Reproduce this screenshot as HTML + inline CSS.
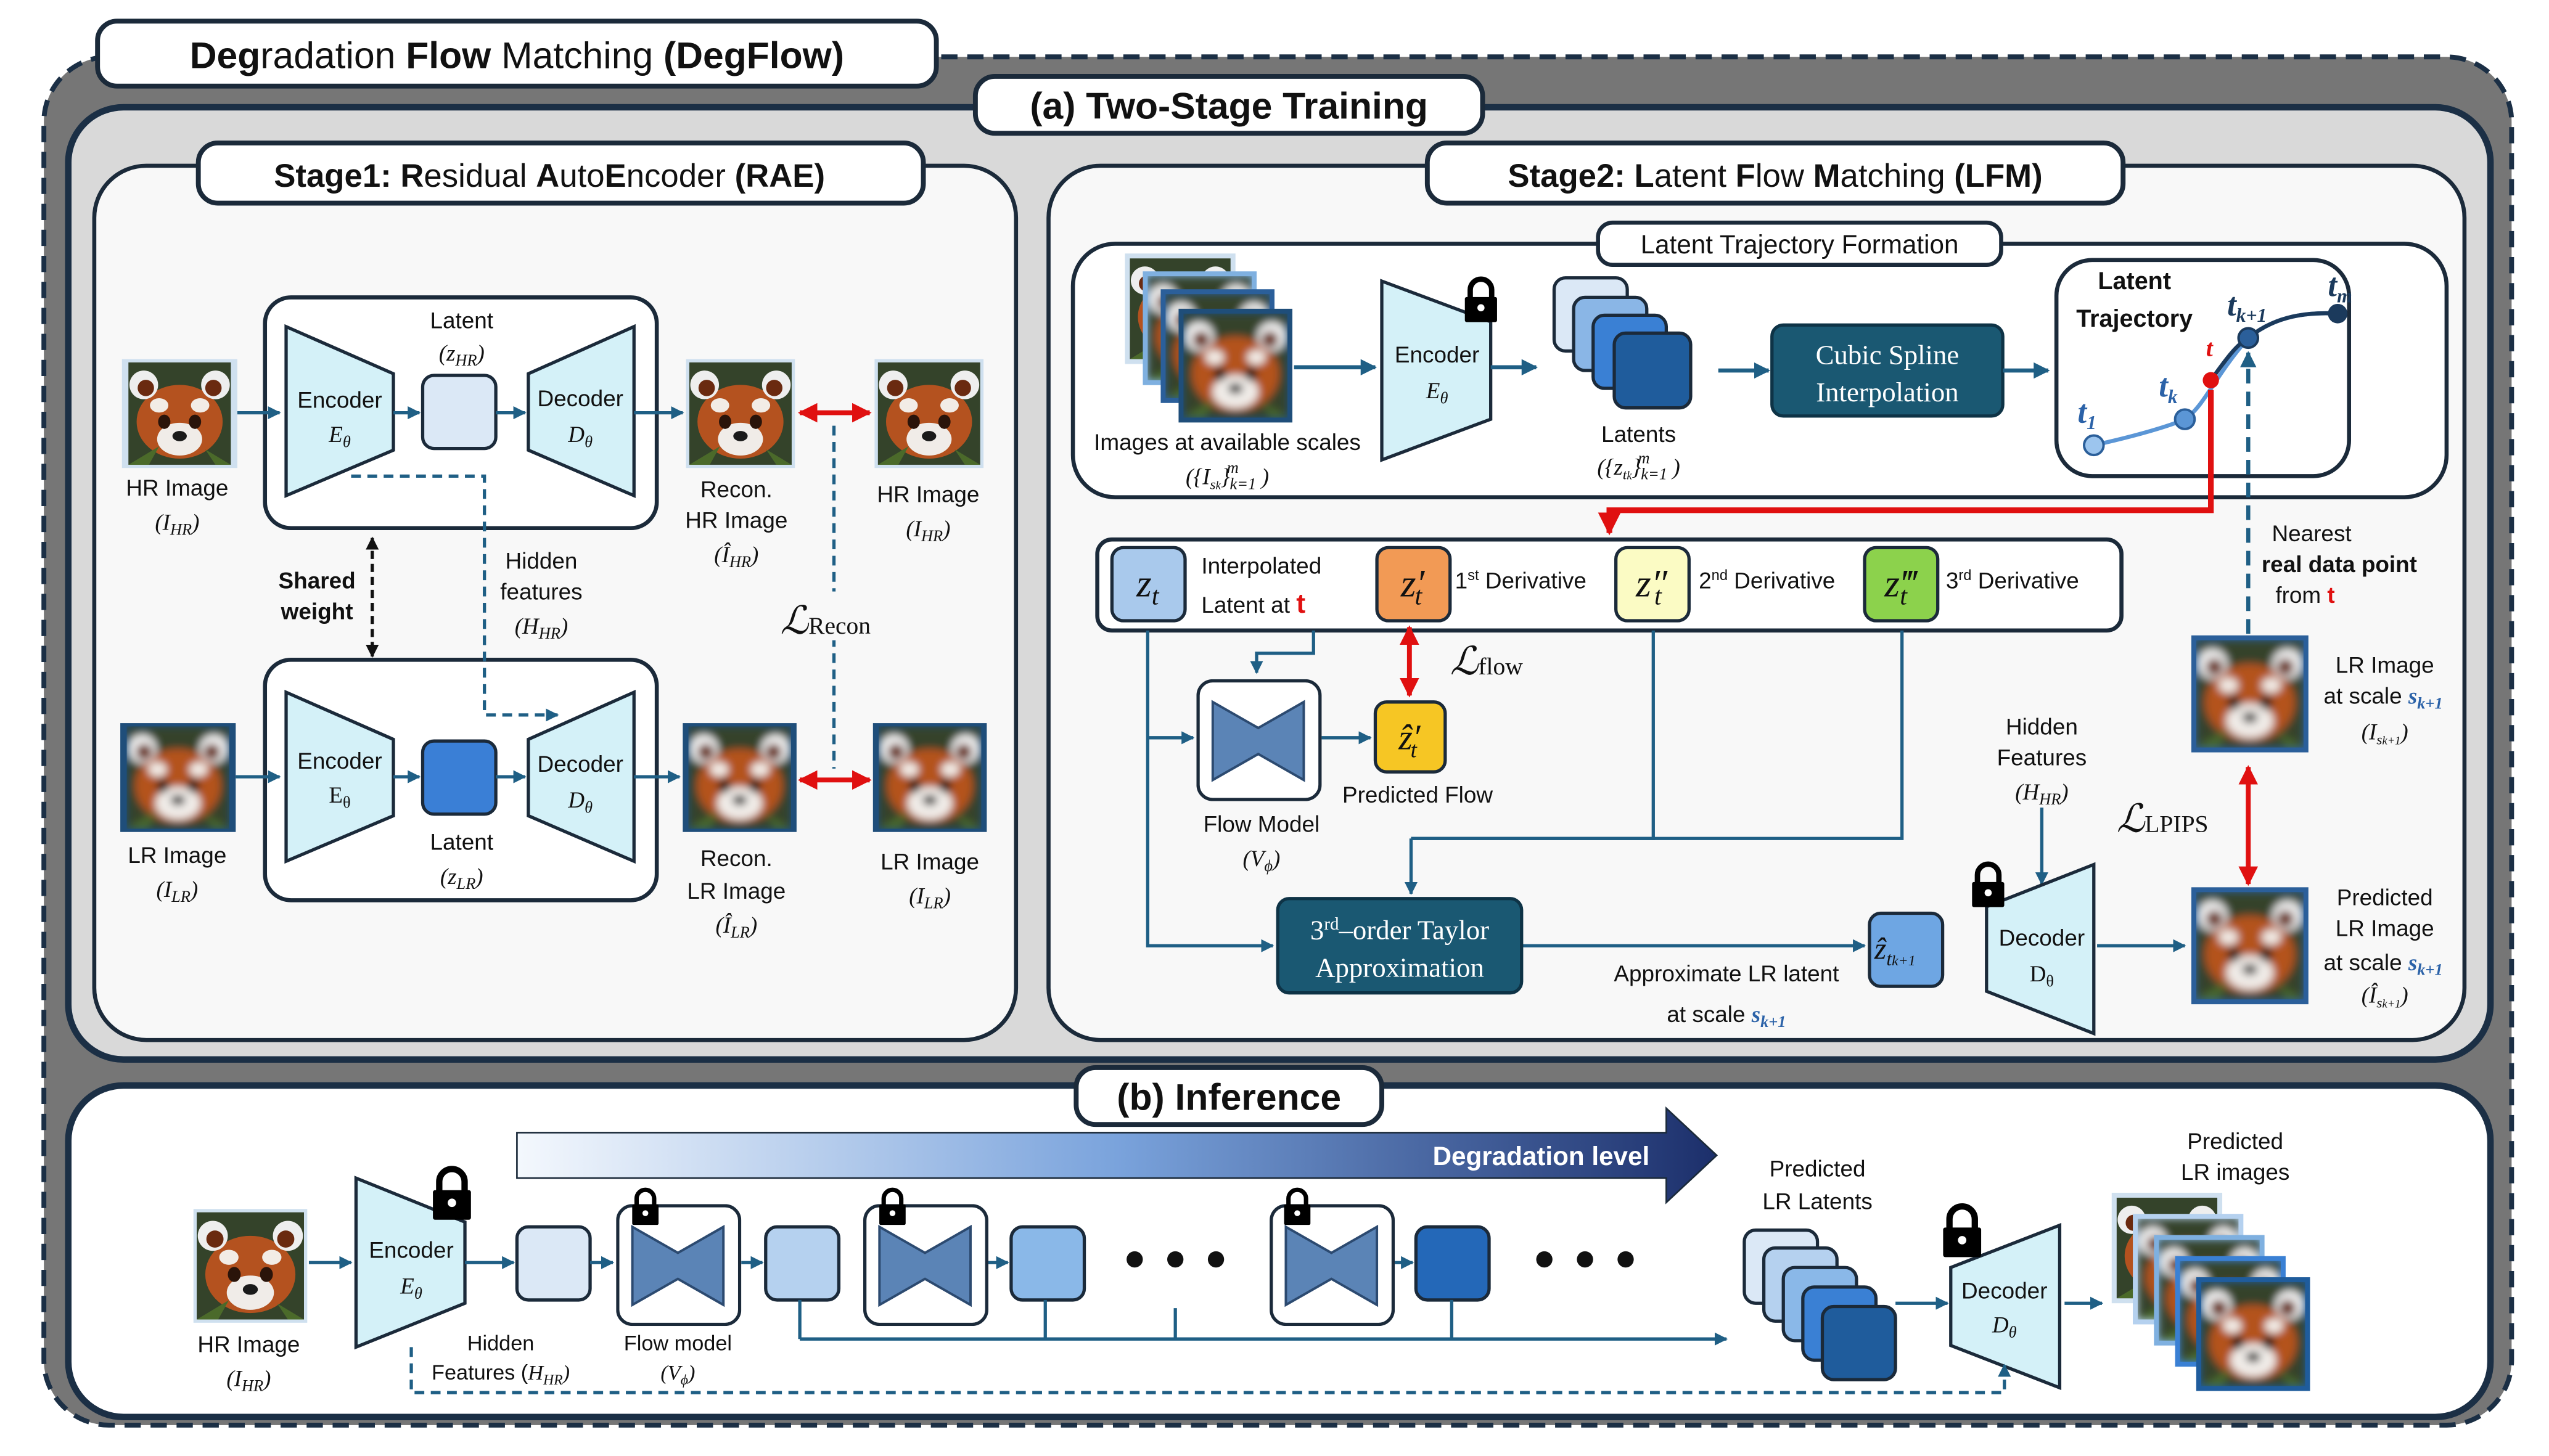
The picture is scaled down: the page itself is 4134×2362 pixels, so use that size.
<!DOCTYPE html>
<html><head><meta charset="utf-8"><style>html,body{margin:0;padding:0;background:#fff}svg{display:block}</style></head><body>
<svg xmlns="http://www.w3.org/2000/svg" width="4134" height="2362" viewBox="0 0 1568 896" preserveAspectRatio="none" font-family="Liberation Sans, sans-serif" fill="#111">
<defs>
<marker id="ab" viewBox="0 0 10 10" refX="9" refY="5" markerWidth="4" markerHeight="4" orient="auto-start-reverse"><path d="M0,0L10,5L0,10z" fill="#1f5f85"/></marker>
<marker id="ar" viewBox="0 0 10 10" refX="9" refY="5" markerWidth="4" markerHeight="4" orient="auto-start-reverse"><path d="M0,0L10,5L0,10z" fill="#e01010"/></marker>
<marker id="ak" viewBox="0 0 10 10" refX="9" refY="5" markerWidth="4" markerHeight="4" orient="auto-start-reverse"><path d="M0,0L10,5L0,10z" fill="#111"/></marker>
<linearGradient id="deg" x1="0" x2="1"><stop offset="0" stop-color="#f4f8fd"/><stop offset="0.5" stop-color="#7aa3dc"/><stop offset="1" stop-color="#1c2f6b"/></linearGradient>
<filter id="bl" x="0" y="0" width="1" height="1"><feGaussianBlur stdDeviation="4"/></filter>
<symbol id="pd" viewBox="0 0 100 100">
<rect width="100" height="100" fill="#34432a"/>
<ellipse cx="50" cy="58" rx="42" ry="36" fill="#b4521f"/>
<circle cx="15" cy="22" r="14" fill="#eee"/><circle cx="85" cy="22" r="14" fill="#eee"/>
<circle cx="17" cy="25" r="8" fill="#6a2a10"/><circle cx="83" cy="25" r="8" fill="#6a2a10"/>
<ellipse cx="30" cy="42" rx="9" ry="7" fill="#f2ece6"/><ellipse cx="70" cy="42" rx="9" ry="7" fill="#f2ece6"/>
<ellipse cx="50" cy="75" rx="22" ry="16" fill="#f0ece8"/>
<ellipse cx="35" cy="58" rx="6" ry="7" fill="#2a140a"/><ellipse cx="65" cy="58" rx="6" ry="7" fill="#2a140a"/>
<ellipse cx="50" cy="72" rx="7" ry="5" fill="#1a1a1a"/>
<path d="M0,100 L30,82 L20,100z M100,100 L75,85 L85,100z" fill="#4b6a2a"/>
</symbol>
<symbol id="pb" viewBox="0 0 100 100"><g filter="url(#bl)"><use href="#pd" width="100" height="100"/></g></symbol>
<symbol id="lk" viewBox="0 0 20 26"><path d="M4,12 V7 A6,6 0 0 1 16,7 V12" fill="none" stroke="#000" stroke-width="3"/><rect x="1" y="11" width="18" height="14" rx="1" fill="#000"/><circle cx="10" cy="17" r="2" fill="#fff"/></symbol>
<symbol id="bt" viewBox="0 0 77 75"><rect x="1" y="1" width="75" height="73" rx="9" fill="#fff" stroke="#1b2a3a" stroke-width="2"/><path d="M10,14 L38,30 L66,14 L66,62 L38,46 L10,62z" fill="#5b84b6" stroke="#2c4a70" stroke-width="1.5"/></symbol>
</defs>

<!-- outer -->
<rect x="27" y="35" width="1518" height="842" rx="40" fill="#767676" stroke="#1b2f45" stroke-width="3" stroke-dasharray="10,6"/>
<rect x="60" y="13" width="516" height="40" rx="12" fill="#fff" stroke="#1b2a3a" stroke-width="3"/>
<text x="318" y="42" font-size="23" text-anchor="middle"><tspan font-weight="bold">Deg</tspan>radation <tspan font-weight="bold">Flow</tspan> Matching  <tspan font-weight="bold">(DegFlow)</tspan></text>

<!-- panel a -->
<rect x="42" y="66" width="1490" height="586" rx="34" fill="#d9d9d9" stroke="#1b2f45" stroke-width="4"/>
<rect x="58" y="102" width="567" height="538" rx="32" fill="#f8f8f8" stroke="#1b2a3a" stroke-width="2.5"/>
<rect x="645" y="102" width="871" height="538" rx="32" fill="#f8f8f8" stroke="#1b2a3a" stroke-width="2.5"/>
<rect x="600" y="47" width="312" height="35" rx="12" fill="#fff" stroke="#1b2a3a" stroke-width="3"/>
<text x="756" y="73" font-size="23" font-weight="bold" text-anchor="middle">(a) Two-Stage Training</text>
<rect x="122" y="88" width="446" height="37" rx="12" fill="#fff" stroke="#1b2a3a" stroke-width="3"/>
<text x="338" y="115" font-size="20" text-anchor="middle"><tspan font-weight="bold">Stage1:</tspan> <tspan font-weight="bold">R</tspan>esidual <tspan font-weight="bold">A</tspan>uto<tspan font-weight="bold">E</tspan>ncoder <tspan font-weight="bold">(RAE)</tspan></text>
<rect x="878" y="88" width="428" height="37" rx="12" fill="#fff" stroke="#1b2a3a" stroke-width="3"/>
<text x="1092" y="115" font-size="20" text-anchor="middle"><tspan font-weight="bold">Stage2:</tspan> <tspan font-weight="bold">L</tspan>atent <tspan font-weight="bold">F</tspan>low <tspan font-weight="bold">M</tspan>atching <tspan font-weight="bold">(LFM)</tspan></text>

<!-- Stage 1 -->
<g font-size="14" text-anchor="middle">
<rect x="75" y="221" width="71" height="67" fill="#cfe0ef"/><use href="#pd" x="77" y="223" width="67" height="63"/>
<text x="109" y="305">HR Image</text><text x="109" y="326" font-family="Liberation Serif" font-style="italic">(I<tspan font-size="10" dy="3">HR</tspan><tspan dy="-3">)</tspan></text>
<rect x="163" y="183" width="241" height="142" rx="16" fill="#fff" stroke="#1b2a3a" stroke-width="2.5"/>
<path d="M176,201 L242,230 L242,277 L176,305z" fill="#d4f1f8" stroke="#1b2a3a" stroke-width="2"/>
<text x="209" y="251">Encoder</text><text x="209" y="272" font-family="Liberation Serif" font-style="italic">E<tspan font-size="10" dy="3">θ</tspan></text>
<rect x="260" y="231" width="45" height="45" rx="7" fill="#dbe8f6" stroke="#1b2a3a" stroke-width="2"/>
<text x="284" y="202">Latent</text><text x="284" y="222" font-family="Liberation Serif" font-style="italic">(z<tspan font-size="10" dy="3">HR</tspan><tspan dy="-3">)</tspan></text>
<path d="M325,230 L390,201 L390,305 L325,277z" fill="#d4f1f8" stroke="#1b2a3a" stroke-width="2"/>
<text x="357" y="250">Decoder</text><text x="357" y="272" font-family="Liberation Serif" font-style="italic">D<tspan font-size="10" dy="3">θ</tspan></text>
<rect x="422" y="221" width="67" height="67" fill="#cfe0ef"/><use href="#pd" x="424" y="223" width="63" height="63"/>
<text x="453" y="306">Recon.</text><text x="453" y="325">HR Image</text><text x="453" y="346" font-family="Liberation Serif" font-style="italic">(Î<tspan font-size="10" dy="3">HR</tspan><tspan dy="-3">)</tspan></text>
<rect x="538" y="221" width="67" height="67" fill="#cfe0ef"/><use href="#pd" x="540" y="223" width="63" height="63"/>
<text x="571" y="309">HR Image</text><text x="571" y="330" font-family="Liberation Serif" font-style="italic">(I<tspan font-size="10" dy="3">HR</tspan><tspan dy="-3">)</tspan></text>

<rect x="163" y="406" width="241" height="148" rx="16" fill="#fff" stroke="#1b2a3a" stroke-width="2.5"/>
<path d="M176,426 L242,455 L242,502 L176,530z" fill="#d4f1f8" stroke="#1b2a3a" stroke-width="2"/>
<text x="209" y="473">Encoder</text><text x="209" y="494" font-family="Liberation Serif">E<tspan font-size="10" dy="3">θ</tspan></text>
<rect x="260" y="456" width="45" height="45" rx="7" fill="#3a7fd6" stroke="#1b2a3a" stroke-width="2"/>
<text x="284" y="523">Latent</text><text x="284" y="544" font-family="Liberation Serif" font-style="italic">(z<tspan font-size="10" dy="3">LR</tspan><tspan dy="-3">)</tspan></text>
<path d="M325,455 L390,426 L390,530 L325,502z" fill="#d4f1f8" stroke="#1b2a3a" stroke-width="2"/>
<text x="357" y="475">Decoder</text><text x="357" y="497" font-family="Liberation Serif" font-style="italic">D<tspan font-size="10" dy="3">θ</tspan></text>
<rect x="74" y="445" width="71" height="67" fill="#1f4e7a"/><use href="#pb" x="76" y="447" width="67" height="63"/>
<text x="109" y="531">LR Image</text><text x="109" y="552" font-family="Liberation Serif" font-style="italic">(I<tspan font-size="10" dy="3">LR</tspan><tspan dy="-3">)</tspan></text>
<rect x="420" y="445" width="70" height="67" fill="#1f4e7a"/><use href="#pb" x="422" y="447" width="66" height="63"/>
<text x="453" y="533">Recon.</text><text x="453" y="553">LR Image</text><text x="453" y="574" font-family="Liberation Serif" font-style="italic">(Î<tspan font-size="10" dy="3">LR</tspan><tspan dy="-3">)</tspan></text>
<rect x="537" y="445" width="70" height="67" fill="#1f4e7a"/><use href="#pb" x="539" y="447" width="66" height="63"/>
<text x="572" y="535">LR Image</text><text x="572" y="556" font-family="Liberation Serif" font-style="italic">(I<tspan font-size="10" dy="3">LR</tspan><tspan dy="-3">)</tspan></text>

<text x="333" y="350">Hidden</text><text x="333" y="369">features</text><text x="333" y="390" font-family="Liberation Serif" font-style="italic">(H<tspan font-size="10" dy="3">HR</tspan><tspan dy="-3">)</tspan></text>
<text x="195" y="362" font-weight="bold">Shared</text><text x="195" y="381" font-weight="bold">weight</text>
</g>
<g stroke="#1f5f85" stroke-width="2" fill="none">
<path d="M146,254H172" marker-end="url(#ab)"/><path d="M242,254H258" marker-end="url(#ab)"/><path d="M305,254H323" marker-end="url(#ab)"/><path d="M390,254H420" marker-end="url(#ab)"/>
<path d="M145,478H172" marker-end="url(#ab)"/><path d="M242,478H258" marker-end="url(#ab)"/><path d="M305,478H323" marker-end="url(#ab)"/><path d="M390,478H418" marker-end="url(#ab)"/>
<path d="M216,293H298V440H343" stroke-dasharray="6,4" marker-end="url(#ab)"/>
<path d="M513,262V473" stroke-dasharray="6,4"/>
</g>
<rect x="478" y="364" width="70" height="30" fill="#f8f8f8"/>
<text x="480" y="390" font-size="24" font-family="Liberation Serif" font-style="italic">ℒ<tspan font-size="15" font-style="normal">Recon</tspan></text>
<path d="M229,331V404" stroke="#111" stroke-width="2" stroke-dasharray="5,3" marker-start="url(#ak)" marker-end="url(#ak)"/>
<path d="M492,254H535" stroke="#e01010" stroke-width="3" marker-start="url(#ar)" marker-end="url(#ar)"/>
<path d="M492,480H535" stroke="#e01010" stroke-width="3" marker-start="url(#ar)" marker-end="url(#ar)"/>

<!-- Stage 2 top box -->
<rect x="660" y="150" width="845" height="156" rx="26" fill="#fff" stroke="#1b2a3a" stroke-width="2.5"/>
<rect x="983" y="137" width="248" height="26" rx="9" fill="#fff" stroke="#1b2a3a" stroke-width="2.5"/>
<text x="1107" y="156" font-size="16" text-anchor="middle">Latent Trajectory Formation</text>
<g font-size="14" text-anchor="middle">
<rect x="692" y="156" width="68" height="68" fill="#cfe0ef"/><use href="#pd" x="695" y="159" width="62" height="62"/>
<rect x="703" y="167" width="70" height="70" fill="#7fb0e0"/><use href="#pb" x="706" y="170" width="64" height="64"/>
<rect x="714" y="178" width="70" height="70" fill="#2b5f9a"/><use href="#pb" x="717" y="181" width="64" height="64"/>
<rect x="725" y="190" width="70" height="70" fill="#1f4e7a"/><use href="#pb" x="728" y="193" width="64" height="64"/>
<text x="755" y="277">Images at available scales</text>
<text x="755" y="298" font-family="Liberation Serif" font-style="italic">({I<tspan font-size="9" dy="3">s<tspan font-size="7">k</tspan></tspan><tspan dy="-3">}</tspan><tspan font-size="10" dy="3">k=1</tspan><tspan dx="-18" dy="-10" font-size="10">m</tspan><tspan dx="14" dy="7">)</tspan></text>
<path d="M850,173 L917,198 L917,258 L850,283z" fill="#d4f1f8" stroke="#1b2a3a" stroke-width="2"/>
<use href="#lk" x="900" y="166" width="22" height="38"/>
<text x="884" y="223">Encoder</text><text x="884" y="245" font-family="Liberation Serif" font-style="italic">E<tspan font-size="10" dy="3">θ</tspan></text>
<rect x="956" y="171" width="45" height="45" rx="7" fill="#dbe8f6" stroke="#1b2a3a" stroke-width="2"/>
<rect x="968" y="183" width="45" height="45" rx="7" fill="#8ab6e6" stroke="#1b2a3a" stroke-width="2"/>
<rect x="980" y="194" width="45" height="45" rx="7" fill="#3a80d4" stroke="#1b2a3a" stroke-width="2"/>
<rect x="993" y="205" width="47" height="46" rx="7" fill="#1f5c9c" stroke="#1b2a3a" stroke-width="2"/>
<text x="1008" y="272">Latents</text>
<text x="1008" y="292" font-family="Liberation Serif" font-style="italic">({z<tspan font-size="9" dy="3">t<tspan font-size="7">k</tspan></tspan><tspan dy="-3">}</tspan><tspan font-size="10" dy="3">k=1</tspan><tspan dx="-18" dy="-10" font-size="10">m</tspan><tspan dx="14" dy="7">)</tspan></text>
</g>
<rect x="1090" y="200" width="142" height="56" rx="7" fill="#1a5872" stroke="#0e3346" stroke-width="2"/>
<text x="1161" y="224" font-size="17" font-family="Liberation Serif" fill="#fff" text-anchor="middle">Cubic Spline</text>
<text x="1161" y="247" font-size="17" font-family="Liberation Serif" fill="#fff" text-anchor="middle">Interpolation</text>
<rect x="1265" y="160" width="180" height="133" rx="22" fill="#fff" stroke="#1b2a3a" stroke-width="2.5"/>
<text x="1313" y="178" font-size="15" font-weight="bold" text-anchor="middle">Latent</text>
<text x="1313" y="201" font-size="15" font-weight="bold" text-anchor="middle">Trajectory</text>
<path d="M1288,274 C1315,268 1335,262 1344,258 C1356,250 1362,232 1383,208 C1400,194 1420,192 1438,193" fill="none" stroke="#5b96d6" stroke-width="2.5"/>
<path d="M1360,234 C1370,220 1376,212 1383,208 C1400,194 1420,192 1438,193" fill="none" stroke="#1b3a5c" stroke-width="2.5"/>
<circle cx="1288" cy="274" r="6" fill="#9cc5ee" stroke="#2b5f9a" stroke-width="1.5"/>
<circle cx="1344" cy="258" r="6" fill="#5b96d6" stroke="#2b5f9a" stroke-width="1.5"/>
<circle cx="1383" cy="208" r="6" fill="#2b5f9a" stroke="#1b3a5c" stroke-width="1.5"/>
<circle cx="1438" cy="193" r="6" fill="#1b3a5c"/>
<circle cx="1360" cy="234" r="5" fill="#e01010"/>
<g font-family="Liberation Serif" font-style="italic" font-weight="bold" font-size="20" fill="#2b62a8">
<text x="1278" y="260">t<tspan font-size="12" dy="4">1</tspan></text>
<text x="1328" y="244">t<tspan font-size="12" dy="4">k</tspan></text>
<text x="1370" y="194" fill="#1b3a5c">t<tspan font-size="12" dy="4">k+1</tspan></text>
<text x="1432" y="182" fill="#1b3a5c">t<tspan font-size="12" dy="4">m</tspan></text>
<text x="1357" y="219" fill="#e01010" font-size="15">t</text>
</g>
<g stroke="#1f5f85" stroke-width="2.5" fill="none">
<path d="M796,226H846" marker-end="url(#ab)"/><path d="M917,226H945" marker-end="url(#ab)"/>
<path d="M1057,228H1088" marker-end="url(#ab)"/><path d="M1232,228H1260" marker-end="url(#ab)"/>
<path d="M1383,390V217" stroke-dasharray="9,5" marker-end="url(#ab)"/>
</g>
<path d="M1360,240V314H990V328" stroke="#e01010" stroke-width="3.5" fill="none" marker-end="url(#ar)"/>
<g font-size="14" text-anchor="middle">
<text x="1422" y="333">Nearest</text><text x="1439" y="352" font-weight="bold">real data point</text><text x="1418" y="371">from <tspan fill="#e01010" font-weight="bold">t</tspan></text>
</g>

<!-- derivative box -->
<rect x="675" y="332" width="630" height="56" rx="9" fill="#fff" stroke="#1b2a3a" stroke-width="2.5"/>
<g font-family="Liberation Serif" font-style="italic" font-size="24" text-anchor="middle">
<rect x="684" y="337" width="45" height="45" rx="7" fill="#a9c9ec" stroke="#1b2a3a" stroke-width="2"/><text x="706" y="367">z<tspan font-size="16" dy="5">t</tspan></text>
<rect x="847" y="337" width="45" height="45" rx="7" fill="#f29a55" stroke="#1b2a3a" stroke-width="2"/><text x="869" y="367">z′<tspan font-size="16" dy="5" dx="-6">t</tspan></text>
<rect x="994" y="337" width="45" height="45" rx="7" fill="#fbfbc4" stroke="#1b2a3a" stroke-width="2"/><text x="1016" y="367">z″<tspan font-size="16" dy="5" dx="-8">t</tspan></text>
<rect x="1147" y="337" width="45" height="45" rx="7" fill="#8cd24c" stroke="#1b2a3a" stroke-width="2"/><text x="1169" y="367">z‴<tspan font-size="16" dy="5" dx="-10">t</tspan></text>
</g>
<g font-size="14">
<text x="739" y="353">Interpolated</text><text x="739" y="377">Latent at <tspan fill="#e01010" font-weight="bold" font-size="17">t</tspan></text>
<text x="895" y="362">1<tspan font-size="9" dy="-5">st</tspan><tspan dy="5"> Derivative</tspan></text>
<text x="1045" y="362">2<tspan font-size="9" dy="-5">nd</tspan><tspan dy="5"> Derivative</tspan></text>
<text x="1197" y="362">3<tspan font-size="9" dy="-5">rd</tspan><tspan dy="5"> Derivative</tspan></text>
</g>
<path d="M867,386V428" stroke="#e01010" stroke-width="3" marker-start="url(#ar)" marker-end="url(#ar)"/>
<text x="892" y="415" font-size="24" font-family="Liberation Serif" font-style="italic">ℒ<tspan font-size="15" font-style="normal">flow</tspan></text>
<use href="#bt" x="736" y="418" width="77" height="75"/>
<rect x="846" y="432" width="43" height="43" rx="7" fill="#f6c624" stroke="#1b2a3a" stroke-width="2"/>
<text x="867" y="461" font-size="22" font-family="Liberation Serif" font-style="italic" text-anchor="middle">ẑ′<tspan font-size="14" dy="5" dx="-6">t</tspan></text>
<g font-size="14" text-anchor="middle">
<text x="872" y="494">Predicted Flow</text>
<text x="776" y="512">Flow Model</text><text x="776" y="533" font-family="Liberation Serif" font-style="italic">(V<tspan font-size="10" dy="3">ϕ</tspan><tspan dy="-3">)</tspan></text>
</g>
<g stroke="#1f5f85" stroke-width="2" fill="none">
<path d="M706,388V582H783" marker-end="url(#ab)"/><path d="M706,454H734" marker-end="url(#ab)"/>
<path d="M808,388V402H773V414" marker-end="url(#ab)"/>
<path d="M813,454H843" marker-end="url(#ab)"/>
<path d="M1017,388V516H868"/><path d="M1170,388V516H868"/><path d="M868,516V550" marker-end="url(#ab)"/>
<path d="M936,582H1147" marker-end="url(#ab)"/>
<path d="M1256,497V544" marker-end="url(#ab)"/>
<path d="M1290,582H1344" marker-end="url(#ab)"/>
</g>
<rect x="786" y="553" width="150" height="58" rx="7" fill="#1a5872" stroke="#0e3346" stroke-width="2"/>
<text x="861" y="578" font-size="17" font-family="Liberation Serif" fill="#fff" text-anchor="middle">3<tspan font-size="11" dy="-6">rd</tspan><tspan dy="6">–order Taylor</tspan></text>
<text x="861" y="601" font-size="17" font-family="Liberation Serif" fill="#fff" text-anchor="middle">Approximation</text>
<g font-size="14" text-anchor="middle">
<text x="1062" y="604">Approximate LR latent</text>
<text x="1062" y="629">at scale <tspan font-family="Liberation Serif" font-style="italic" font-weight="bold" fill="#2b62a8">s<tspan font-size="10" dy="3">k+1</tspan></tspan></text>
</g>
<rect x="1150" y="562" width="45" height="45" rx="7" fill="#6ea6e3" stroke="#1b2a3a" stroke-width="2"/>
<text x="1153" y="590" font-size="19" font-family="Liberation Serif" font-style="italic">ẑ<tspan font-size="12" dy="4">t<tspan font-size="9">k+1</tspan></tspan></text>
<path d="M1222,558 L1288,532 L1288,636 L1222,610z" fill="#d4f1f8" stroke="#1b2a3a" stroke-width="2"/>
<use href="#lk" x="1212" y="528" width="22" height="34"/>
<g font-size="14" text-anchor="middle">
<text x="1256" y="582">Decoder</text><text x="1256" y="604" font-family="Liberation Serif">D<tspan font-size="10" dy="3">θ</tspan></text>
<text x="1256" y="452">Hidden</text><text x="1256" y="471">Features</text><text x="1256" y="492" font-family="Liberation Serif" font-style="italic">(H<tspan font-size="10" dy="3">HR</tspan><tspan dy="-3">)</tspan></text>
</g>
<rect x="1348" y="546" width="72" height="72" fill="#2b5f9a"/><use href="#pb" x="1351" y="549" width="66" height="66"/>
<rect x="1348" y="391" width="72" height="72" fill="#2b5f9a"/><use href="#pb" x="1351" y="394" width="66" height="66"/>
<path d="M1383,472V544" stroke="#e01010" stroke-width="3" marker-start="url(#ar)" marker-end="url(#ar)"/>
<text x="1302" y="512" font-size="24" font-family="Liberation Serif" font-style="italic">ℒ<tspan font-size="15" font-style="normal">LPIPS</tspan></text>
<g font-size="14" text-anchor="middle">
<text x="1467" y="414">LR Image</text>
<text x="1466" y="433">at scale <tspan font-family="Liberation Serif" font-style="italic" font-weight="bold" fill="#2b62a8">s<tspan font-size="10" dy="3">k+1</tspan></tspan></text>
<text x="1467" y="455" font-family="Liberation Serif" font-style="italic">(I<tspan font-size="9" dy="3">s<tspan font-size="7">k+1</tspan></tspan><tspan dy="-3">)</tspan></text>
<text x="1467" y="557">Predicted</text><text x="1467" y="576">LR Image</text>
<text x="1466" y="597">at scale <tspan font-family="Liberation Serif" font-style="italic" font-weight="bold" fill="#2b62a8">s<tspan font-size="10" dy="3">k+1</tspan></tspan></text>
<text x="1467" y="617" font-family="Liberation Serif" font-style="italic">(Î<tspan font-size="9" dy="3">s<tspan font-size="7">k+1</tspan></tspan><tspan dy="-3">)</tspan></text>
</g>

<!-- panel b -->
<rect x="42" y="668" width="1490" height="204" rx="34" fill="#fff" stroke="#1b2f45" stroke-width="4"/>
<rect x="662" y="657" width="188" height="35" rx="12" fill="#fff" stroke="#1b2a3a" stroke-width="3"/>
<text x="756" y="683" font-size="23" font-weight="bold" text-anchor="middle">(b) Inference</text>
<path d="M318,697H1025V682L1056,711L1025,740V725H318z" fill="url(#deg)" stroke="#1b2a3a" stroke-width="1"/>
<text x="948" y="717" font-size="16" font-weight="bold" fill="#fff" text-anchor="middle">Degradation level</text>
<rect x="119" y="744" width="70" height="70" fill="#cfe0ef"/><use href="#pd" x="121" y="746" width="66" height="66"/>
<path d="M219,725 L286,752 L286,802 L219,829z" fill="#d4f1f8" stroke="#1b2a3a" stroke-width="2"/>
<use href="#lk" x="265" y="715" width="26" height="40"/>
<path d="M1200,780 L1267,754 L1267,854 L1200,828z" fill="#d4f1f8" stroke="#1b2a3a" stroke-width="2"/>
<use href="#lk" x="1194" y="738" width="26" height="40"/>
<g font-size="14" text-anchor="middle">
<text x="153" y="832">HR Image</text><text x="153" y="853" font-family="Liberation Serif" font-style="italic">(I<tspan font-size="10" dy="3">HR</tspan><tspan dy="-3">)</tspan></text>
<text x="253" y="774">Encoder</text><text x="253" y="796" font-family="Liberation Serif" font-style="italic">E<tspan font-size="10" dy="3">θ</tspan></text>
<text x="308" y="831" font-size="13">Hidden</text><text x="308" y="849" font-size="13">Features (<tspan font-family="Liberation Serif" font-style="italic">H<tspan font-size="9" dy="3">HR</tspan><tspan dy="-3">)</tspan></tspan></text>
<text x="417" y="831" font-size="13">Flow model</text><text x="417" y="849" font-size="13" font-family="Liberation Serif" font-style="italic">(V<tspan font-size="9" dy="3">ϕ</tspan><tspan dy="-3">)</tspan></text>
<text x="1118" y="724">Predicted</text><text x="1118" y="744">LR Latents</text>
<text x="1233" y="799">Decoder</text><text x="1233" y="820" font-family="Liberation Serif" font-style="italic">D<tspan font-size="10" dy="3">θ</tspan></text>
<text x="1375" y="707">Predicted</text><text x="1375" y="726">LR images</text>
</g>
<rect x="318" y="755" width="45" height="45" rx="7" fill="#dbe8f6" stroke="#1b2a3a" stroke-width="2"/>
<use href="#bt" x="379" y="741" width="77" height="75"/><use href="#lk" x="388" y="729" width="18" height="28"/>
<rect x="471" y="755" width="45" height="45" rx="7" fill="#b5d1ef" stroke="#1b2a3a" stroke-width="2"/>
<use href="#bt" x="531" y="741" width="77" height="75"/><use href="#lk" x="540" y="729" width="18" height="28"/>
<rect x="622" y="755" width="45" height="45" rx="7" fill="#8ab8e8" stroke="#1b2a3a" stroke-width="2"/>
<use href="#bt" x="781" y="741" width="77" height="75"/><use href="#lk" x="789" y="729" width="18" height="28"/>
<rect x="871" y="755" width="45" height="45" rx="7" fill="#2468b8" stroke="#1b2a3a" stroke-width="2"/>
<g fill="#111"><circle cx="698" cy="775" r="5"/><circle cx="723" cy="775" r="5"/><circle cx="748" cy="775" r="5"/><circle cx="950" cy="775" r="5"/><circle cx="975" cy="775" r="5"/><circle cx="1000" cy="775" r="5"/></g>
<g stroke="#1f5f85" stroke-width="2" fill="none">
<path d="M190,777H216" marker-end="url(#ab)"/><path d="M286,777H316" marker-end="url(#ab)"/>
<path d="M363,777H377" marker-end="url(#ab)"/><path d="M456,777H469" marker-end="url(#ab)"/>
<path d="M608,777H620" marker-end="url(#ab)"/><path d="M858,777H869" marker-end="url(#ab)"/>
<path d="M492,800V824M643,800V824M723,805V824M893,800V824"/><path d="M492,824H1062" marker-end="url(#ab)"/>
<path d="M253,829V857H1233V840" stroke-dasharray="6,4" marker-end="url(#ab)"/>
<path d="M1166,802H1198" marker-end="url(#ab)"/><path d="M1270,802H1293" marker-end="url(#ab)"/>
</g>
<rect x="1073" y="757" width="45" height="45" rx="7" fill="#dbe8f6" stroke="#1b2a3a" stroke-width="2"/>
<rect x="1085" y="768" width="45" height="45" rx="7" fill="#b5d1ef" stroke="#1b2a3a" stroke-width="2"/>
<rect x="1097" y="780" width="45" height="45" rx="7" fill="#8ab8e8" stroke="#1b2a3a" stroke-width="2"/>
<rect x="1109" y="792" width="45" height="45" rx="7" fill="#3a80d4" stroke="#1b2a3a" stroke-width="2"/>
<rect x="1121" y="804" width="45" height="45" rx="7" fill="#1f5c9c" stroke="#1b2a3a" stroke-width="2"/>
<rect x="1299" y="734" width="68" height="68" fill="#cfe0ef"/><use href="#pd" x="1302" y="737" width="62" height="62"/>
<rect x="1312" y="747" width="68" height="68" fill="#b5d1ef"/><use href="#pb" x="1315" y="750" width="62" height="62"/>
<rect x="1325" y="760" width="68" height="68" fill="#7fb0e0"/><use href="#pb" x="1328" y="763" width="62" height="62"/>
<rect x="1338" y="773" width="68" height="68" fill="#3a80d4"/><use href="#pb" x="1341" y="776" width="62" height="62"/>
<rect x="1351" y="786" width="70" height="70" fill="#1f5c9c"/><use href="#pb" x="1354" y="789" width="64" height="64"/>
</svg>
</body></html>
